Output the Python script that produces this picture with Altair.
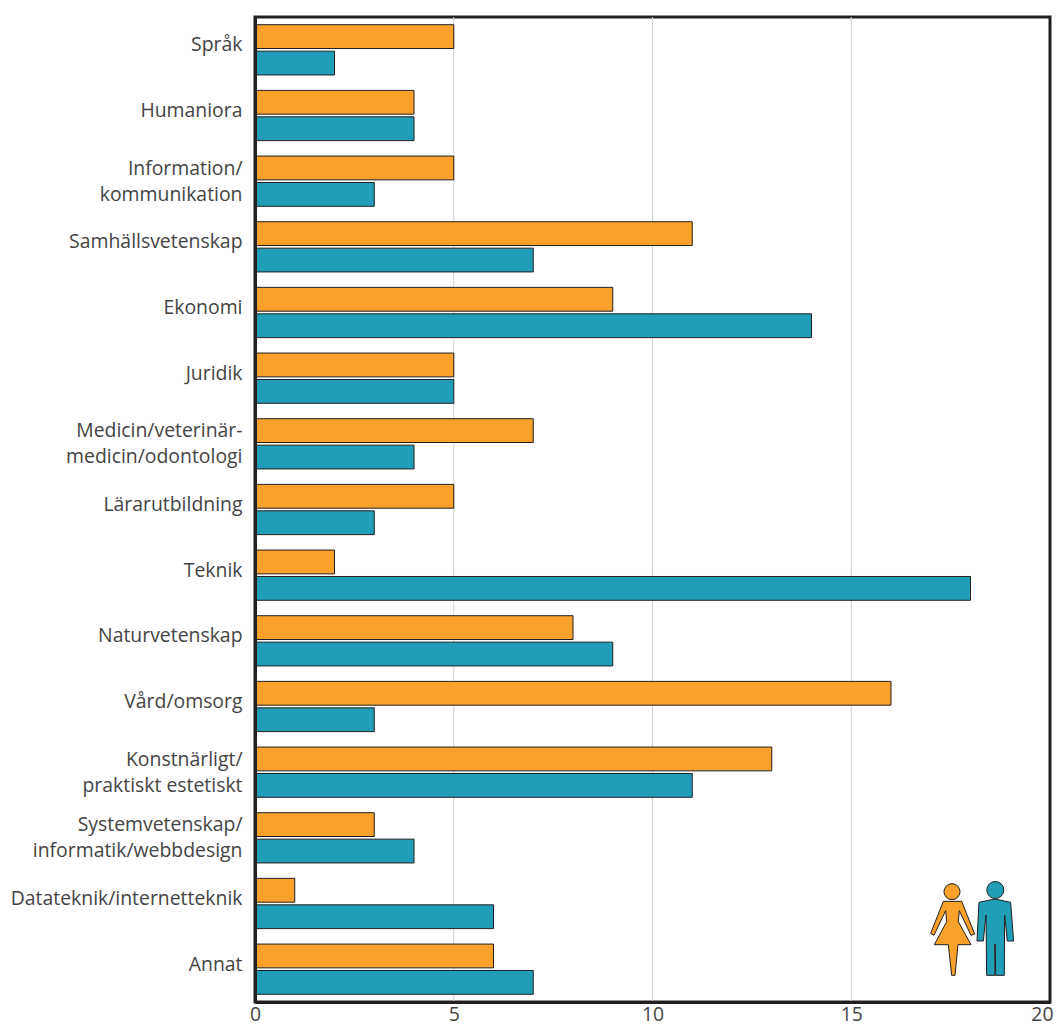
import altair as alt
import pandas as pd

categories = ["Språk", "Humaniora", "Information/|kommunikation", "Samhällsvetenskap", "Ekonomi",
              "Juridik", "Medicin/veterinär-|medicin/odontologi", "Lärarutbildning", "Teknik",
              "Naturvetenskap", "Vård/omsorg", "Konstnärligt/|praktiskt estetiskt",
              "Systemvetenskap/|informatik/webbdesign", "Datateknik/internetteknik", "Annat"]
women = [5, 4, 5, 11, 9, 5, 7, 5, 2, 8, 16, 13, 3, 1, 6]
men = [2, 4, 3, 7, 14, 5, 4, 3, 18, 9, 3, 11, 4, 6, 7]
series = ["Kvinnor", "Män"]
grid_values = [5, 10, 15]
tick_values = [0, 5, 10, 15, 20]
colors = ["#f9a12b", "#209db7"]
INK = "#231f20"
TXT = "#444444"
FONT = "Open Sans"
FS = 19.4

rows = []
for c, w, m in zip(categories, women, men):
    rows.append({"cat": c, "kon": series[0], "v": w})
    rows.append({"cat": c, "kon": series[1], "v": m})
df = pd.DataFrame(rows)

xscale = alt.Scale(domain=[0, 20], nice=False)
xaxis = alt.Axis(values=tick_values, title=None, ticks=False, grid=False,
                 labelFont=FONT, labelFontSize=FS, labelColor=TXT, labelPadding=3,
                 labelFlush=False, labelAlign=alt.ExprRef("datum.value == 20 ? 'right' : 'center'"),
                 labelOffset=alt.ExprRef("datum.value == 20 ? 3 : 0"),
                 domainColor=INK, domainWidth=3, zindex=1)

grid = alt.Chart(pd.DataFrame({"g": grid_values})).mark_rule(color="#cfcfcf", strokeWidth=1).encode(
    x=alt.X("g:Q", scale=xscale, axis=xaxis))

bars = alt.Chart(df).mark_bar(stroke=INK, strokeWidth=1).encode(
    x=alt.X("v:Q", scale=xscale, axis=xaxis),
    y=alt.Y("cat:N", sort=categories,
            scale=alt.Scale(domain=categories, paddingInner=0.235, paddingOuter=0.1175),
            axis=alt.Axis(title=None, ticks=False, grid=False, labelFont=FONT, labelFontSize=FS, labelColor=TXT,
                          labelPadding=13, labelLimit=300, labelLineHeight=26,
                          labelExpr="length(split(datum.label,'|'))>1 ? split(datum.label,'|') : datum.label",
                          labelOffset=alt.ExprRef("length(split(datum.label,'|'))>1 ? -12.5 : -4.5"),
                          domainColor=INK, domainWidth=3, zindex=1)),
    yOffset=alt.YOffset("kon:N", sort=series, scale=alt.Scale(domain=series, paddingInner=0.1)),
    color=alt.Color("kon:N", scale=alt.Scale(domain=series, range=colors), legend=None),
)


def shape(points):
    return "M" + "L".join(f"{x / 3:.2f},{y / 3:.2f}" for x, y in points) + "Z"


woman_pts = [(-26, -86), (29, -86), (68, 12), (57, 16), (22, -58), (19, -25), (57, 44), (18, 44), (9, 136), (-1, 136),
             (-11, 44), (-53, 44), (-16, -25), (-19, -58), (-54, 16), (-64, 10)]
man_pts = [(-49, -83), (-1, -93), (46, -83), (55, 33), (36, 33), (28, -45), (27, 136), (1, 136), (0, 42), (-2, 42),
           (-1, 136), (-26, 136), (-28, -45), (-36, 33), (-55, 33)]

person_style = dict(filled=True, stroke=INK, strokeWidth=1, opacity=1)
one = pd.DataFrame({"a": [0]})
woman = alt.Chart(one).mark_point(shape=shape(woman_pts), size=4, color=colors[0], **person_style).encode(
    x=alt.value(697), y=alt.value(913))
man = alt.Chart(one).mark_point(shape=shape(man_pts), size=4, color=colors[1], **person_style).encode(
    x=alt.value(740.3), y=alt.value(913))
woman_head = alt.Chart(one).mark_point(shape="circle", size=256, color=colors[0], **person_style).encode(
    x=alt.value(697), y=alt.value(874.7))
man_head = alt.Chart(one).mark_point(shape="circle", size=289, color=colors[1], **person_style).encode(
    x=alt.value(740.3), y=alt.value(873))

chart = (grid + bars + woman + man + woman_head + man_head).properties(
    width=795, height=985,
    padding={"left": 247, "top": 9, "right": 4, "bottom": 24},
    autosize=alt.AutoSizeParams(type="none"),
    background="white",
).configure_view(stroke=INK, strokeWidth=3)

chart.save("out.html", embed_options={"renderer": "svg", "actions": False})
